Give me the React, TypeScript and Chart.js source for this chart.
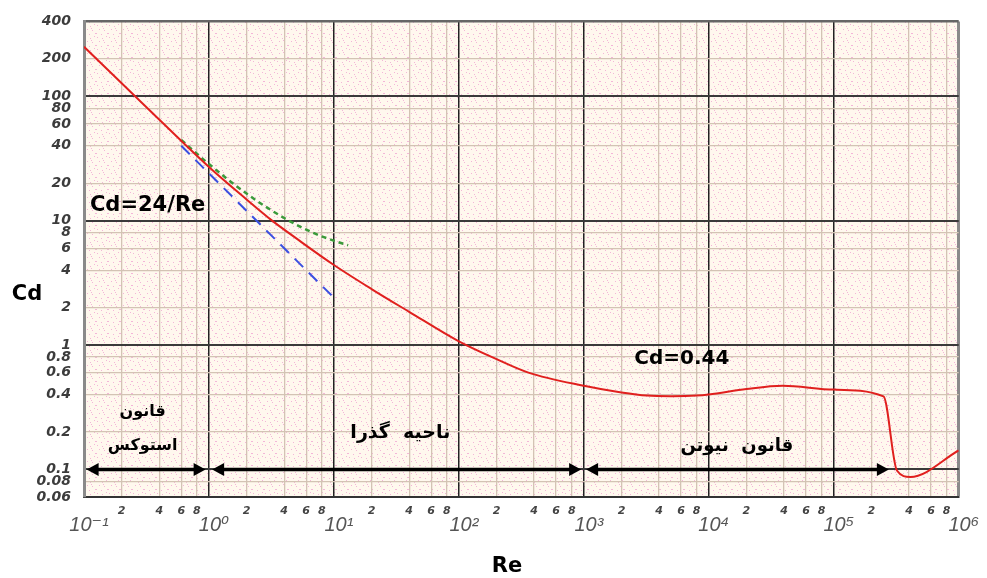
import React, { useEffect, useRef } from 'react';
import { Chart, registerables } from 'chart.js';

Chart.register(...registerables);

// ---- data ----
const reCurve = [0.1, 0.3, 1, 2, 3.2, 5, 10, 20, 40, 100, 200, 360, 1000, 2000, 3200, 5000, 8000, 10000, 20000, 39000, 100000, 250000, 320000, 410000, 1000000];
const cdCurve = [250, 86, 27, 14.8, 10, 7.2, 4.4, 2.82, 1.85, 1.07, 0.77, 0.6, 0.47, 0.415, 0.392, 0.388, 0.392, 0.4, 0.443, 0.471, 0.438, 0.387, 0.098, 0.087, 0.142];

const reStokes = [0.6, 10];
const cdStokes = [40, 2.4];

const reOseen = [0.6, 1, 2, 4, 7, 10, 13];
const cdOseen = [44.5, 28.5, 16.5, 10.5, 7.9, 6.9, 6.35];

const xDecades = [0.1, 1, 10, 100, 1000, 10000, 100000, 1000000];
const xDecadeLabels = ['10⁻¹', '10⁰', '10¹', '10²', '10³', '10⁴', '10⁵', '10⁶'];
const xMinorSteps = [2, 4, 6, 8];

const yTicks = [0.06, 0.08, 0.1, 0.2, 0.4, 0.6, 0.8, 1, 2, 4, 6, 8, 10, 20, 40, 60, 80, 100, 200, 400];
const yTickLabels = ['0.06', '0.08', '0.1', '0.2', '0.4', '0.6', '0.8', '1', '2', '4', '6', '8', '10', '20', '40', '60', '80', '100', '200', '400'];
const yMajor = [0.1, 1, 10, 100];

const arrowLevel = 0.1;
const arrowStarts = [0.105, 1.06, 1043];
const arrowEnds = [0.94, 951, 276000];

// ---- helpers ----
const near = (a: number, b: number) => Math.abs(Math.log10(a) - Math.log10(b)) < 1e-6;

function buildXTicks() {
  const out: any[] = [];
  xDecades.forEach((d, i) => {
    out.push({ value: d, lbl: '\u2002' + xDecadeLabels[i], kind: 'major' });
    if (i < xDecades.length - 1) {
      xMinorSteps.forEach((m) => out.push({ value: d * m, lbl: String(m), kind: 'minor' }));
    }
  });
  return out;
}

function makePattern(ctx: CanvasRenderingContext2D) {
  const c = document.createElement('canvas');
  c.width = 12;
  c.height = 12;
  const g = c.getContext('2d')!;
  g.fillStyle = '#fff8ee';
  g.fillRect(0, 0, 12, 12);
  g.fillStyle = '#f3b6d8';
  const dots = [[1, 1], [6, 2], [10, 0], [3, 5], [8, 6], [11, 9], [0, 9], [5, 10], [7, 4]];
  dots.forEach(([x, y]) => g.fillRect(x, y, 1, 1));
  return ctx.createPattern(c, 'repeat');
}

const backgroundPlugin = {
  id: 'paperBg',
  beforeDraw(chart: any) {
    const { ctx, chartArea } = chart;
    ctx.save();
    ctx.fillStyle = '#ffffff';
    ctx.fillRect(0, 0, chart.width, chart.height);
    const p = makePattern(ctx);
    ctx.fillStyle = p || '#fdf3ea';
    ctx.fillRect(chartArea.left, chartArea.top, chartArea.right - chartArea.left, chartArea.bottom - chartArea.top);
    ctx.restore();
  },
};

const annotationPlugin = {
  id: 'annotations',
  afterDatasetsDraw(chart: any) {
    const { ctx } = chart;
    const xs = chart.scales.x;
    const ys = chart.scales.y;
    ctx.save();

    // region arrows
    const y = ys.getPixelForValue(arrowLevel);
    ctx.strokeStyle = '#000';
    ctx.fillStyle = '#000';
    ctx.lineWidth = 3.5;
    const head = 12;
    const hw = 6.5;
    arrowStarts.forEach((a, i) => {
      const x1 = xs.getPixelForValue(a);
      const x2 = xs.getPixelForValue(arrowEnds[i]);
      ctx.beginPath();
      ctx.moveTo(x1 + head - 1, y);
      ctx.lineTo(x2 - head + 1, y);
      ctx.stroke();
      ctx.beginPath();
      ctx.moveTo(x1, y);
      ctx.lineTo(x1 + head, y - hw);
      ctx.lineTo(x1 + head, y + hw);
      ctx.closePath();
      ctx.fill();
      ctx.beginPath();
      ctx.moveTo(x2, y);
      ctx.lineTo(x2 - head, y - hw);
      ctx.lineTo(x2 - head, y + hw);
      ctx.closePath();
      ctx.fill();
    });

    // formula labels
    ctx.fillStyle = '#000';
    ctx.textBaseline = 'middle';
    ctx.textAlign = 'left';
    ctx.font = 'bold 21px "DejaVu Sans"';
    ctx.fillText('Cd=24/Re', xs.getPixelForValue(0.1116), ys.getPixelForValue(13.17));
    ctx.font = 'bold 20px "DejaVu Sans"';
    ctx.fillText('Cd=0.44', xs.getPixelForValue(2535), ys.getPixelForValue(0.78));

    // regime labels (Persian)
    ctx.textAlign = 'center';
    ctx.font = 'bold 16px "DejaVu Sans"';
    ctx.fillText('قانون', xs.getPixelForValue(0.295), ys.getPixelForValue(0.29));
    ctx.fillText('استوکس', xs.getPixelForValue(0.295), ys.getPixelForValue(0.155));
    ctx.font = 'bold 19px "DejaVu Sans"';
    ctx.fillText('ناحیه  گذرا', xs.getPixelForValue(34), ys.getPixelForValue(0.197));
    ctx.font = 'bold 18px "DejaVu Sans"';
    ctx.fillText('قانون  نیوتن', xs.getPixelForValue(16750), ys.getPixelForValue(0.152));

    // axis titles
    ctx.font = 'bold 21px "DejaVu Sans"';
    ctx.fillText('Cd', 27, 295);
    ctx.fillText('Re', 507, 567);
    ctx.restore();
  },
};

export default function App() {
  const ref = useRef<HTMLCanvasElement>(null);

  useEffect(() => {
    const xTickObjs = buildXTicks();
    const chart = new Chart(ref.current!, {
      type: 'line',
      data: {
        datasets: [
          {
            label: 'Cd',
            data: reCurve.map((x, i) => ({ x, y: cdCurve[i] })),
            borderColor: '#e0201e',
            borderWidth: 2,
            pointRadius: 0,
            cubicInterpolationMode: 'monotone',
            fill: false,
          },
          {
            label: 'Oseen',
            data: reOseen.map((x, i) => ({ x, y: cdOseen[i] })),
            borderColor: '#3a9a3a',
            borderWidth: 2.5,
            borderDash: [5, 4],
            pointRadius: 0,
            cubicInterpolationMode: 'monotone',
            fill: false,
          },
          {
            label: 'Stokes',
            data: reStokes.map((x, i) => ({ x, y: cdStokes[i] })),
            borderColor: '#3a4fe0',
            borderWidth: 2,
            borderDash: [12, 8],
            pointRadius: 0,
            fill: false,
          },
        ],
      },
      options: {
        responsive: false,
        animation: false,
        devicePixelRatio: 1,
        layout: { padding: { top: 17, right: 24, bottom: 0, left: 0 } },
        plugins: { legend: { display: false }, tooltip: { enabled: false } },
        scales: {
          x: {
            type: 'logarithmic',
            min: 0.1,
            max: 1000000,
            bounds: 'data',
            afterBuildTicks: (s: any) => {
              s.ticks = xTickObjs.map((t) => ({ ...t }));
            },
            afterFit: (s: any) => {
              s.height = 81;
            },
            border: { display: true, color: '#333', width: 2 },
            grid: {
              drawTicks: false,
              color: (c: any) => {
                const t = c.tick;
                if (!t) return '#cfc0b2';
                if (near(t.value, 1000000)) return '#8a8a8a';
                if (near(t.value, 0.1)) return '#8a8a8a';
                return t.kind === 'major' ? '#222' : '#d3c3b4';
              },
              lineWidth: (c: any) => {
                const t = c.tick;
                if (!t) return 1;
                if (near(t.value, 1000000)) return 3;
                return t.kind === 'major' ? 1.5 : 1.3;
              },
            },
            ticks: {
              autoSkip: false,
              maxRotation: 0,
              minRotation: 0,
              padding: 8,
              callback: (_v: any, i: number, ticks: any[]) => ticks[i].lbl,
              color: (c: any) => (c.tick && c.tick.kind === 'major' ? '#555' : '#444'),
              font: (c: any) =>
                c.tick && c.tick.kind === 'major'
                  ? { family: '"Liberation Sans", "DejaVu Sans"', size: 20, style: 'italic', lineHeight: 2.03 }
                  : { family: '"DejaVu Sans"', size: 11, style: 'italic', weight: 'bold', lineHeight: 1.2 },
            },
          },
          y: {
            type: 'logarithmic',
            min: 0.06,
            max: 400,
            bounds: 'data',
            afterBuildTicks: (s: any) => {
              s.ticks = yTicks.map((v, i) => ({ value: v, lbl: yTickLabels[i] }));
            },
            afterFit: (s: any) => {
              s.width = 84;
            },
            border: { display: true, color: '#8a8a8a', width: 3 },
            grid: {
              drawTicks: false,
              color: (c: any) => {
                const t = c.tick;
                if (!t) return '#d3c3b4';
                if (near(t.value, 400)) return '#666';
                if (yMajor.some((m) => near(m, t.value))) return '#3a3a3a';
                return '#d3c3b4';
              },
              lineWidth: (c: any) => {
                const t = c.tick;
                if (!t) return 1;
                if (near(t.value, 400)) return 2.5;
                if (yMajor.some((m) => near(m, t.value))) return 2;
                return 1.3;
              },
            },
            ticks: {
              autoSkip: false,
              padding: 13,
              color: '#3c3c3c',
              font: { family: '"DejaVu Sans"', size: 14, style: 'italic', weight: 'bold' },
              callback: (_v: any, i: number, ticks: any[]) => ticks[i].lbl,
            },
          },
        },
      },
      plugins: [backgroundPlugin, annotationPlugin],
    } as any);
    return () => chart.destroy();
  }, []);

  return (
    <div style={{ position: 'fixed', left: 0, top: 0, width: 987, height: 578, background: '#fff' }}>
      <canvas ref={ref} width={987} height={578} style={{ display: 'block' }} />
    </div>
  );
}
